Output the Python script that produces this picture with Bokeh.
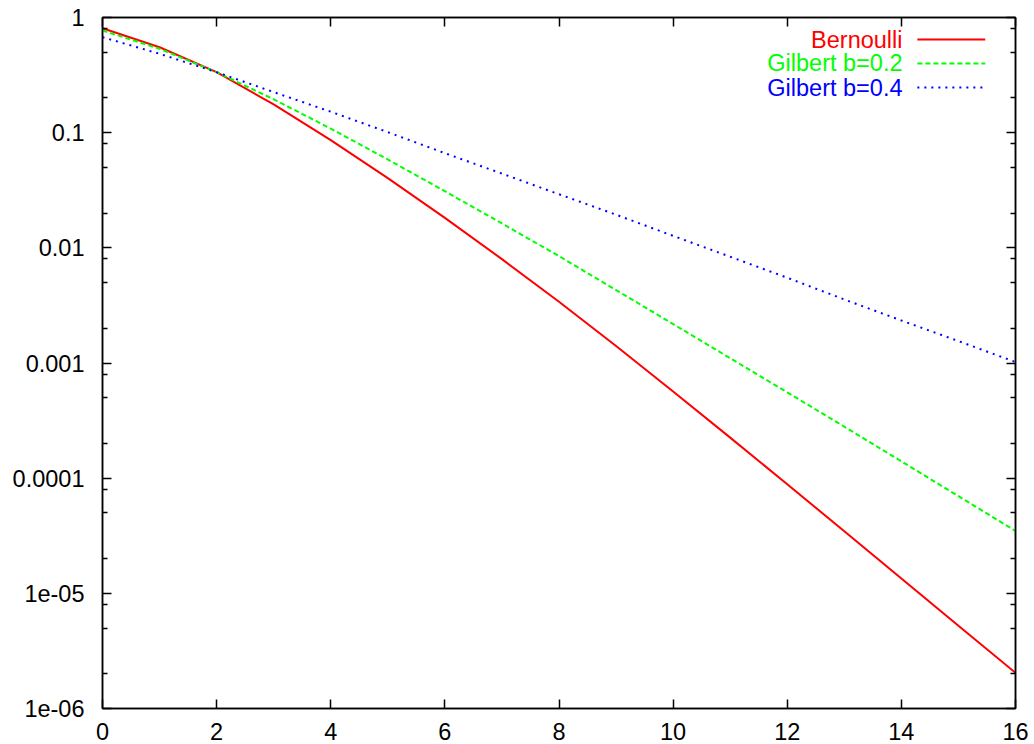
from bokeh.plotting import figure
from bokeh.models import FixedTicker, LogAxis, LinearAxis, Label, Arrow
from bokeh.embed import file_html
from bokeh.resources import INLINE

# ---- data ----
x = list(range(17))
bernoulli = [0.807, 0.552, 0.335, 0.1758, 0.0861, 0.0403, 0.0182, 0.00798, 0.0034,
             0.001403, 0.000565, 0.000225, 8.85e-5, 3.46e-5, 1.346e-5, 5.24e-6, 2.04e-6]
gilbert_02 = [0.771, 0.535, 0.335, 0.195, 0.1084, 0.0585, 0.031, 0.0163, 0.00847,
              0.0043, 0.00218, 0.0011, 0.000556, 0.00028, 0.00014, 6.98e-5, 3.48e-5]
gilbert_04 = [0.675, 0.484, 0.335, 0.225, 0.152, 0.101, 0.0664, 0.0441, 0.0292,
              0.0194, 0.0127, 0.00837, 0.0055, 0.00356, 0.00234, 0.00155, 0.00102]

series_names = ["Bernoulli", "Gilbert b=0.2", "Gilbert b=0.4"]
series_colors = ["#ff0000", "#00ff00", "#0000ff"]
series_dash = ["solid", "5 3", "2 5"]

x_ticks = [0, 2, 4, 6, 8, 10, 12, 14, 16]
y_ticks = [1e-6, 1e-5, 1e-4, 1e-3, 1e-2, 0.1, 1.0]
y_tick_labels = ["1e-06", "1e-05", "0.0001", "0.001", "0.01", "0.1", "1"]
y_minor = [m * d for d in [1e-6, 1e-5, 1e-4, 1e-3, 1e-2, 0.1] for m in (2, 5, 8)]

FONT = "Liberation Sans"
FS = "23.5px"

p = figure(width=1034, height=744, y_axis_type="log",
           x_range=(0, 16), y_range=(1e-6, 1),
           output_backend="svg", toolbar_location=None,
           min_border_left=102, min_border_right=19,
           min_border_top=17, min_border_bottom=36)
p.background_fill_color = "white"
p.border_fill_color = "white"
p.outline_line_color = "black"
p.outline_line_width = 1.5
p.xgrid.visible = False
p.ygrid.visible = False


def style(ax, ticks, minor, labels=None):
    ax.ticker = FixedTicker(ticks=ticks, minor_ticks=minor)
    ax.axis_line_color = "black"
    ax.axis_line_width = 1.5
    ax.major_tick_line_color = "black"
    ax.major_tick_line_width = 1.5
    ax.minor_tick_line_color = "black"
    ax.minor_tick_line_width = 1.5
    ax.major_tick_in = 9
    ax.major_tick_out = 0
    ax.minor_tick_in = 5
    ax.minor_tick_out = 0
    ax.major_label_text_font = FONT
    ax.major_label_text_color = "black"
    ax.major_label_text_font_size = FS
    if labels is not None:
        ax.major_label_overrides = {t: s for t, s in zip(ticks, labels)}


xa = p.xaxis[0]
style(xa, x_ticks, [])
xa.major_label_standoff = 14

ya = p.yaxis[0]
style(ya, y_ticks, y_minor, y_tick_labels)
ya.major_label_standoff = 18

# mirrored tick marks on the right and top (no labels)
ra = LogAxis()
style(ra, y_ticks, y_minor, [""] * len(y_ticks))
ra.major_label_text_font_size = "1px"
ra.major_label_standoff = 0
p.add_layout(ra, "right")

ta = LinearAxis()
style(ta, x_ticks, [], [""] * len(x_ticks))
ta.major_label_text_font_size = "1px"
ta.major_label_standoff = 0
p.add_layout(ta, "above")

for ys, c, d in zip([bernoulli, gilbert_02, gilbert_04], series_colors, series_dash):
    p.line(x, ys, line_color=c, line_width=2, line_dash=d)

# ---- legend (text left of sample, gnuplot style) ----
leg_text_x = 14.02
leg_line_x0, leg_line_x1 = 14.28, 15.47
leg_rows_y = [0.644, 0.399, 0.2467]
for name, c, d, yy in zip(series_names, series_colors, series_dash, leg_rows_y):
    p.add_layout(Label(x=leg_text_x, y=yy, text=name, text_align="right",
                       text_baseline="middle", text_font=FONT, text_font_size=FS,
                       text_color=c))
    p.add_layout(Arrow(x_start=leg_line_x0, y_start=yy, x_end=leg_line_x1, y_end=yy,
                       end=None, line_color=c, line_width=2, line_dash=d))

open("out.html", "w").write(file_html(p, INLINE))
